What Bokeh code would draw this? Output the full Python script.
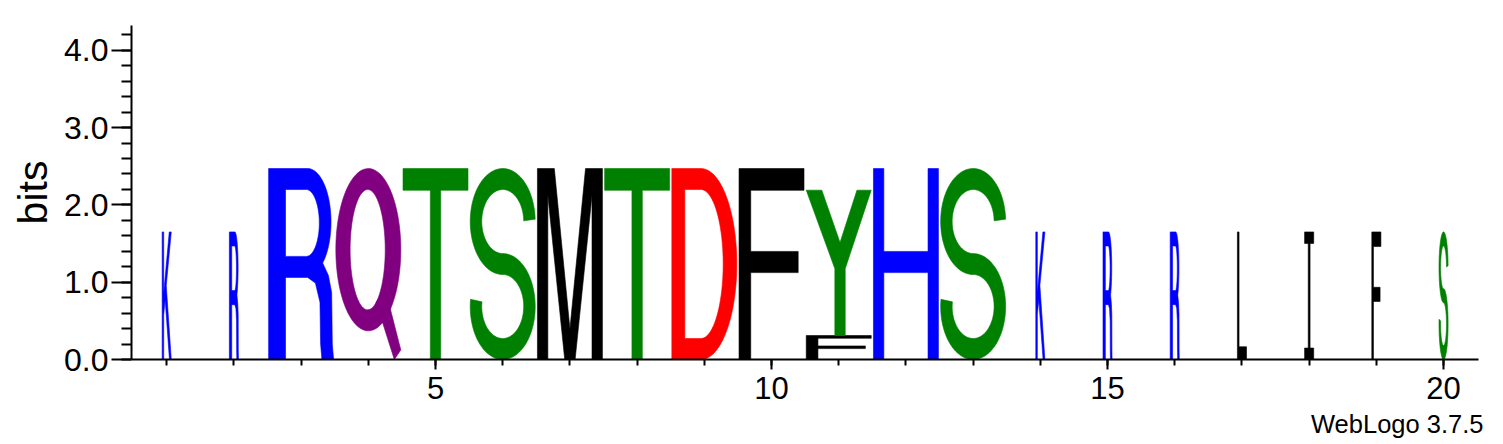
import numpy as np
from bokeh.plotting import figure
from bokeh.models import (Range1d, SingleIntervalTicker, FixedTicker,
                          PrintfTickFormatter, Title, ColumnDataSource)
from bokeh.embed import file_html
from bokeh.resources import INLINE

# ---------------- data ----------------
positions = list(range(1, 21))
# fraction of full stack width per position (occupancy)
stack_width = [0.14, 0.14, 1, 1, 1, 1, 1, 1, 1, 1,
               1, 1, 1, 0.14, 0.14, 0.14, 0.14, 0.14, 0.14, 0.14]
# letters listed bottom-to-top within each stack
letter_pos = [1, 2, 3, 4, 5, 6, 7, 8, 9, 10, 11, 11, 12, 13,
              14, 15, 16, 17, 18, 19, 20]
letter_char = ["K", "R", "R", "Q", "T", "S", "M", "T", "D", "F", "F", "Y", "H", "S",
               "K", "R", "R", "L", "I", "F", "S"]
letter_bits = [1.65, 1.65, 2.47, 2.47, 2.47, 2.47, 2.47, 2.47, 2.47, 2.47, 0.31, 1.88, 2.47, 2.47,
               1.65, 1.65, 1.65, 1.65, 1.65, 1.65, 1.65]
x_major_ticks = [5, 10, 15, 20]
y_max = 4.32

colors = {"K": "#0000FF", "R": "#0000FF", "H": "#0000FF",
          "Q": "#800080",
          "T": "#008000", "S": "#008000", "Y": "#008000",
          "D": "#FF0000",
          "M": "#000000", "F": "#000000", "L": "#000000", "I": "#000000"}

FULL_W = 0.967


# ---------------- glyph outlines in a unit box ----------------
def arc(cx, cy, rx, ry, a0, a1, n=48):
    t = np.radians(np.linspace(a0, a1, n))
    return list(zip(cx + rx * np.cos(t), cy + ry * np.sin(t)))


def s_outline():
    W, h = 0.62, 0.055
    rx, ry = W / 2 - h, 0.2225
    cu, cl = 0.7225, 0.2775
    pts = arc(W / 2, cu, rx, ry, 2, 270, 70) + arc(W / 2, cl, rx, ry, 90, -188, 70)[1:]
    pts = np.array(pts)
    left, right = [], []
    for i in range(len(pts)):
        a = pts[max(i - 1, 0)]
        b = pts[min(i + 1, len(pts) - 1)]
        t = b - a
        t = t / np.hypot(*t)
        n = np.array([-t[1], t[0]])
        left.append(pts[i] + h * n)
        right.append(pts[i] - h * n)
    ring = left + right[::-1]
    return [[[(x / W, y) for x, y in ring]]]


SHAPES = {
    "T": [[[(0, 1), (1, 1), (1, 0.886), (0.58, 0.886), (0.58, 0), (0.42, 0), (0.42, 0.886), (0, 0.886)]]],
    "H": [[[(0, 0), (0, 1), (0.16, 1), (0.16, 0.566), (0.84, 0.566), (0.84, 1), (1, 1), (1, 0),
            (0.84, 0), (0.84, 0.455), (0.16, 0.455), (0.16, 0)]]],
    "F": [[[(0, 0), (0, 1), (1, 1), (1, 0.886), (0.18, 0.886), (0.18, 0.566), (0.91, 0.566),
            (0.91, 0.455), (0.18, 0.455), (0.18, 0)]]],
    "L": [[[(0, 0), (0, 1), (0.18, 1), (0.18, 0.1), (1, 0.1), (1, 0)]]],
    "I": [[[(0, 0), (1, 0), (1, 0.09), (0.6, 0.09), (0.6, 0.91), (1, 0.91), (1, 1), (0, 1),
            (0, 0.91), (0.4, 0.91), (0.4, 0.09), (0, 0.09)]]],
    "K": [[[(0, 0), (0, 1), (0.17, 1), (0.17, 0.52), (0.78, 1), (1, 1), (0.45, 0.58), (1, 0),
            (0.8, 0), (0.33, 0.47), (0.17, 0.35), (0.17, 0)]]],
    "M": [[[(0, 0), (0, 1), (0.26, 1), (0.5, 0.16), (0.74, 1), (1, 1), (1, 0), (0.84, 0),
            (0.84, 0.86), (0.58, 0), (0.42, 0), (0.16, 0.86), (0.16, 0)]]],
    "Y": [[[(0, 1), (0.24, 1), (0.52, 0.64), (0.78, 1), (1, 1), (0.6, 0.46), (0.6, 0),
            (0.44, 0), (0.44, 0.46)]]],
    "R": [[[(0, 0), (0, 1), (0.6, 1)] + arc(0.6, 0.72, 0.36, 0.28, 90, -50)
           + [(0.92, 0.44), (0.97, 0.35), (0.98, 0.08), (1.0, 0.0), (0.82, 0.0), (0.8, 0.08),
              (0.79, 0.3), (0.72, 0.4), (0.6, 0.43), (0.26, 0.43), (0.26, 0)],
           [(0.26, 0.54), (0.58, 0.54)] + arc(0.58, 0.715, 0.2, 0.175, -90, 90) + [(0.26, 0.89)]]],
    "D": [[[(0, 0), (0, 1), (0.45, 1)] + arc(0.45, 0.5, 0.55, 0.5, 90, -90),
           [(0.2, 0.11), (0.45, 0.11)] + arc(0.45, 0.5, 0.34, 0.39, -90, 90) + [(0.2, 0.89)]]],
    "Q": [[arc(0.5, 0.575, 0.5, 0.425, 0, 360, 90), arc(0.49, 0.575, 0.27, 0.315, 0, 360, 90)],
          [[(0.62, 0.30), (0.76, 0.37), (1.0, 0.05), (0.9, 0.0)]]],
    "S": s_outline(),
}

# ---------------- build the logo polygons (one row per closed shape) ----------------
xs, ys, fills = [], [], []
base = {}
for pos, ch, bits in zip(letter_pos, letter_char, letter_bits):
    w = FULL_W * stack_width[pos - 1]
    x0 = pos - w / 2
    y0 = base.get(pos, 0.0)
    base[pos] = y0 + bits
    for poly in SHAPES[ch]:
        rx_ = [[x0 + u * w for u, v in ring] for ring in poly]
        ry_ = [[y0 + v * bits for u, v in ring] for ring in poly]
        xs.append([rx_])
        ys.append([ry_])
        fills.append(colors[ch])

src = ColumnDataSource(dict(xs=xs, ys=ys, color=fills))

# ---------------- figure ----------------
FONT = "Liberation Sans"
p = figure(width=1503, height=444, output_backend="svg", toolbar_location=None,
           x_range=Range1d(0.476, 20.52), y_range=Range1d(0, y_max),
           min_border_left=131, min_border_right=25, min_border_top=25, min_border_bottom=84)
p.outline_line_color = None
p.xgrid.visible = False
p.ygrid.visible = False
p.background_fill_color = "white"

p.multi_polygons(xs="xs", ys="ys", fill_color="color", line_color="color",
                 line_width=0.6, source=src)

ya = p.yaxis[0]
ya.ticker = SingleIntervalTicker(interval=1, num_minor_ticks=5)
ya.formatter = PrintfTickFormatter(format="%.1f")
ya.axis_label = "bits"
ya.axis_label_text_font = FONT
ya.axis_label_text_font_size = "41px"
ya.axis_label_text_font_style = "normal"
ya.axis_label_text_color = "black"
ya.axis_label_standoff = 5
ya.major_label_text_font = FONT
ya.major_label_text_font_size = "32px"
ya.major_label_text_color = "black"
ya.major_label_standoff = 3
ya.major_tick_in = 0
ya.major_tick_out = 20
ya.minor_tick_in = 0
ya.minor_tick_out = 10
ya.axis_line_width = 2
ya.major_tick_line_width = 2
ya.minor_tick_line_width = 2
ya.axis_line_color = "black"
ya.major_tick_line_color = "black"
ya.minor_tick_line_color = "black"

xa = p.xaxis[0]
xa.ticker = FixedTicker(ticks=x_major_ticks, minor_ticks=positions)
xa.major_label_text_font = FONT
xa.major_label_text_font_size = "31px"
xa.major_label_text_color = "black"
xa.major_label_standoff = 7
xa.major_tick_in = 0
xa.major_tick_out = 10
xa.minor_tick_in = 0
xa.minor_tick_out = 6
xa.axis_line_width = 2
xa.major_tick_line_width = 2
xa.minor_tick_line_width = 2
xa.axis_line_color = "black"
xa.major_tick_line_color = "black"
xa.minor_tick_line_color = "black"

p.add_layout(Title(text="WebLogo 3.7.5", align="right", offset=-5, standoff=13,
                   text_font=FONT, text_font_size="25.5px", text_font_style="normal",
                   text_color="black"), "below")

open("out.html", "w").write(file_html(p, INLINE))
